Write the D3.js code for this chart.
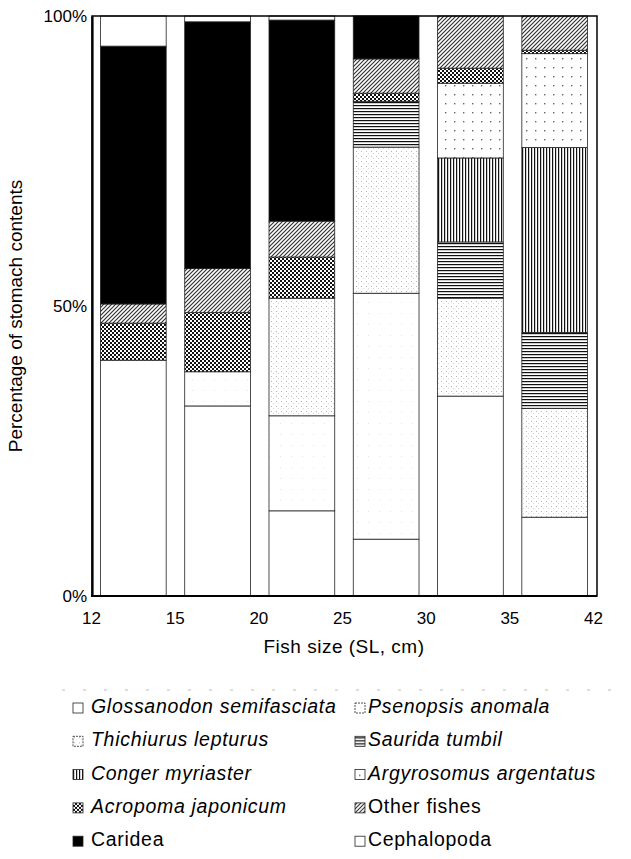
<!DOCTYPE html>
<html>
<head>
<meta charset="utf-8">
<script src="https://cdn.jsdelivr.net/npm/d3@7"></script>
<style>
  body { margin: 0; background: #fff; }
  text { font-family: Arial, "Liberation Sans", sans-serif; fill: #000; }
</style>
</head>
<body>
<script>
//Size classes (bars) and the class limits shown under the axis
var sizeClasses = ["12-15", "15-20", "20-25", "25-30", "30-35", "35-42"];
var sizeTicks = ["12", "15", "20", "25", "30", "35", "42"];

//Prey groups, stacked from the bottom, in legend order
var preyNames = ["Glossanodon semifasciata", "Psenopsis anomala", "Thichiurus lepturus",
                 "Saurida tumbil", "Conger myriaster", "Argyrosomus argentatus",
                 "Acropoma japonicum", "Other fishes", "Caridea", "Cephalopoda"];
var italicNames = [true, true, true, true, true, true, true, false, false, false];

//Percentage of stomach contents per size class
var glossanodon = [40.7, 32.8, 14.7,  9.8, 34.5, 13.6];
var psenopsis   = [ 0.0,  5.9, 16.4, 42.4,  0.0,  0.0];
var thichiurus  = [ 0.0,  0.0, 20.3, 25.2, 16.9, 18.8];
var saurida     = [ 0.0,  0.0,  0.0,  7.9,  9.7, 13.1];
var conger      = [ 0.0,  0.0,  0.0,  0.0, 14.5, 31.9];
var argyrosomus = [ 0.0,  0.0,  0.0,  0.0, 12.9, 16.2];
var acropoma    = [ 6.4, 10.2,  7.1,  1.4,  2.6,  0.6];
var otherFishes = [ 3.3,  7.6,  6.2,  5.9,  9.0,  5.9];
var caridea     = [44.5, 42.6, 34.7,  7.4,  0.0,  0.0];
var cephalopoda = [ 5.2,  1.0,  0.7,  0.0,  0.0,  0.0];

var preyValues = [glossanodon, psenopsis, thichiurus, saurida, conger,
                  argyrosomus, acropoma, otherFishes, caridea, cephalopoda];

var yTicks = [0, 0.5, 1];

//Width and height
var w = 631;
var h = 859;
var plot = {left: 92, right: 597, top: 16, bottom: 596};

var svg = d3.select("body")
            .append("svg")
            .attr("width", w)
            .attr("height", h);

//Fill patterns imitating the black & white print
var defs = svg.append("defs");

function pattern(id, pw, ph) {
    var p = defs.append("pattern")
        .attr("id", id)
        .attr("patternUnits", "userSpaceOnUse")
        .attr("width", pw)
        .attr("height", ph);
    p.append("rect").attr("width", pw).attr("height", ph).attr("fill", "#fff");
    return p;
}

var hl = pattern("hlines", 4, 3);
hl.append("rect").attr("y", 0).attr("width", 4).attr("height", 1.2).attr("fill", "#111");

var vl = pattern("vlines", 3, 4);
vl.append("rect").attr("x", 0).attr("width", 1.2).attr("height", 4).attr("fill", "#111");

var ck = pattern("checker", 4, 4);
ck.append("rect").attr("width", 2).attr("height", 2).attr("fill", "#111");
ck.append("rect").attr("x", 2).attr("y", 2).attr("width", 2).attr("height", 2).attr("fill", "#111");

var dg = pattern("diag", 4, 4);
dg.append("path").attr("d", "M0,4L4,0M-1,1L1,-1M3,5L5,3")
  .attr("stroke", "#333").attr("stroke-width", 1.2);

var sp = pattern("speckle", 5, 5);
sp.append("rect").attr("x", 1).attr("y", 1).attr("width", 1).attr("height", 1).attr("fill", "#b5b5b5");
sp.append("rect").attr("x", 3).attr("y", 3).attr("width", 1).attr("height", 1).attr("fill", "#d5d5d5");

var sparse = pattern("sparse", 11, 11);
sparse.append("rect").attr("x", 5).attr("y", 5).attr("width", 1).attr("height", 1).attr("fill", "#e2e2e2");

var dots = pattern("dots", 9, 9);
dots.append("rect").attr("x", 4).attr("y", 4).attr("width", 1.4).attr("height", 1.4).attr("fill", "#666");

var fills = {
    "Glossanodon semifasciata": "#fff",
    "Psenopsis anomala": "url(#sparse)",
    "Thichiurus lepturus": "url(#speckle)",
    "Saurida tumbil": "url(#hlines)",
    "Conger myriaster": "url(#vlines)",
    "Argyrosomus argentatus": "url(#dots)",
    "Acropoma japonicum": "url(#checker)",
    "Other fishes": "url(#diag)",
    "Caridea": "#000",
    "Cephalopoda": "#fff"
};

//Build the table for d3.stack
var table = sizeClasses.map(function(c, i) {
    var row = {size: c};
    preyNames.forEach(function(p, j) { row[p] = preyValues[j][i]; });
    return row;
});

var series = d3.stack()
    .keys(preyNames)
    .offset(d3.stackOffsetExpand)(table);

var x = d3.scaleBand()
    .domain(sizeClasses)
    .range([plot.left, plot.right - 1])
    .paddingInner(0.22)
    .paddingOuter(0.1);

var xLimits = d3.scalePoint()
    .domain(sizeTicks)
    .range([91, 593]);

var y = d3.scaleLinear()
    .domain([0, 1])
    .range([plot.bottom, plot.top]);

//Stacked bars
svg.append("g")
   .selectAll("g")
   .data(series)
   .enter()
   .append("g")
   .attr("fill", function(d) { return fills[d.key]; })
   .selectAll("rect")
   .data(function(d) { return d.filter(function(s) { return s[1] - s[0] > 0; }); })
   .enter()
   .append("rect")
   .attr("x", function(d) { return x(d.data.size); })
   .attr("y", function(d) { return y(d[1]); })
   .attr("width", x.bandwidth())
   .attr("height", function(d) { return y(d[0]) - y(d[1]); })
   .attr("stroke", "#222")
   .attr("stroke-width", 0.8);

//Frame
svg.append("rect")
   .attr("x", plot.left)
   .attr("y", plot.top)
   .attr("width", plot.right - plot.left)
   .attr("height", plot.bottom - plot.top)
   .attr("fill", "none")
   .attr("stroke", "#000")
   .attr("stroke-width", 1.5);

//Axes
var yAxis = svg.append("g")
    .attr("transform", "translate(" + plot.left + ",0)")
    .call(d3.axisLeft(y)
        .tickValues(yTicks)
        .tickFormat(d3.format(".0%"))
        .tickSize(0)
        .tickPadding(5));
yAxis.select(".domain").attr("stroke-width", 2.2);
yAxis.selectAll("text").style("font-size", "17px");

var xAxis = svg.append("g")
    .attr("transform", "translate(0," + plot.bottom + ")")
    .call(d3.axisBottom(xLimits)
        .tickSize(0)
        .tickPadding(16));
xAxis.select(".domain").remove();
xAxis.selectAll("text").style("font-size", "17px");

svg.append("line")
   .attr("x1", plot.left - 1).attr("x2", plot.right)
   .attr("y1", plot.bottom).attr("y2", plot.bottom)
   .attr("stroke", "#000").attr("stroke-width", 2.2);

//Axis titles
svg.append("text")
   .attr("x", 344)
   .attr("y", 653)
   .attr("text-anchor", "middle")
   .style("font-size", "19px")
   .style("letter-spacing", "0.5px")
   .text("Fish size (SL, cm)");

svg.append("text")
   .attr("transform", "translate(22,316) rotate(-90)")
   .attr("text-anchor", "middle")
   .style("font-size", "19px")
   .text("Percentage of stomach contents");

//Legend (faint frame edge as in the scan)
svg.append("line")
   .attr("x1", 62).attr("x2", 620)
   .attr("y1", 690).attr("y2", 690)
   .attr("stroke", "#bbb")
   .attr("stroke-dasharray", "3,18");

var legend = svg.append("g")
    .selectAll("g")
    .data(preyNames)
    .enter()
    .append("g")
    .attr("transform", function(d, i) {
        var col = i % 2, row = Math.floor(i / 2);
        return "translate(" + (col === 0 ? 73 : 355) + "," + (713 + row * 33.3) + ")";
    });

legend.append("rect")
    .attr("x", 0)
    .attr("y", -10)
    .attr("width", 10)
    .attr("height", 10)
    .attr("fill", function(d) { return fills[d]; })
    .attr("stroke", "#222")
    .attr("stroke-width", 0.8)
    .attr("stroke-dasharray", function(d) {
        return (d === "Psenopsis anomala" || d === "Thichiurus lepturus") ? "2,1" : null;
    });

legend.append("text")
    .attr("x", function(d, i) { return i % 2 === 0 ? 18 : 13; })
    .attr("y", 0)
    .style("font-size", "19.5px")
    .style("letter-spacing", "0.7px")
    .style("font-style", function(d, i) { return italicNames[i] ? "italic" : "normal"; })
    .text(function(d) { return d; });
</script>
</body>
</html>
